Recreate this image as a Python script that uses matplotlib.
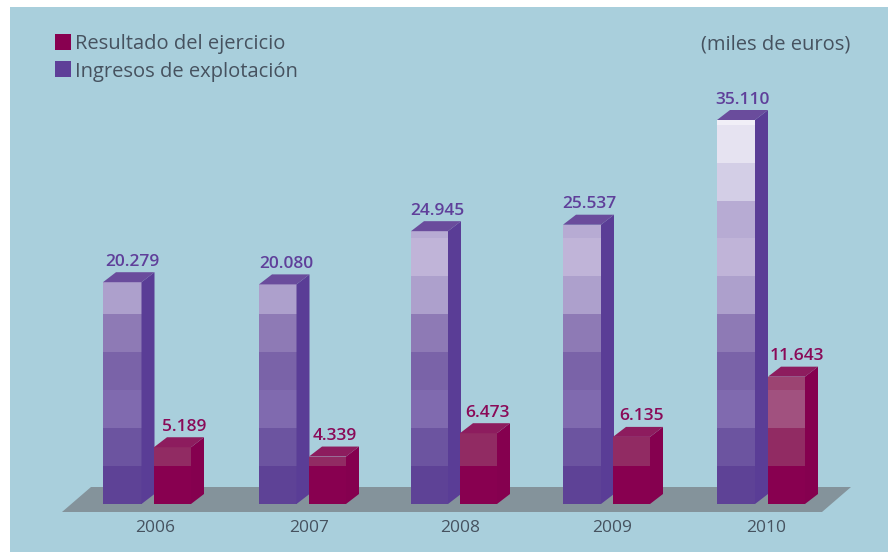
import matplotlib
matplotlib.use('Agg')
import matplotlib.pyplot as plt
from matplotlib.patches import Polygon, Rectangle

# Datos
anios = ['2006', '2007', '2008', '2009', '2010']
ingresos = [20279, 20080, 24945, 25537, 35110]
resultado = [5189, 4339, 6473, 6135, 11643]
etiq_ingresos = ['20.279', '20.080', '24.945', '25.537', '35.110']
etiq_resultado = ['5.189', '4.339', '6.473', '6.135', '11.643']

# Tramos de color de las barras (miles de euros)
cortes = [3520, 6950, 10420, 13900, 17370, 20850, 24320, 27700, 31180, 34650, 36000]
tonos_ingresos = ['#5E4296', '#6C54A0', '#806AAF', '#7A63A8', '#8E7AB5', '#ADA0CC',
                  '#C0B4D8', '#B7ABD3', '#D3CEE6', '#E6E3F1', '#F1EFF7']
tonos_resultado = ['#880050', '#912B63', '#A1517F', '#9C4472']

# Posiciones en pixeles de la figura
x_ingresos = [103, 259, 411, 563, 717]
ancho_ingresos = [38.5, 37.5, 37, 38, 38]
x_resultado = [154, 309, 460, 613, 768]
ancho_resultado = 37
x_anios = [155.5, 309, 460, 612, 766]
x_etiq_ing = [132.5, 286, 437, 589, 742.5]
x_etiq_res = [184.5, 335, 487, 641, 797]
prof_x = 13

PX = 384 / 35110  # pixeles por unidad
prof_y = 10 / PX
base_px = 504

plt.rcParams['font.family'] = ['Open Sans', 'DejaVu Sans']

fig = plt.figure(figsize=(8.9, 5.52), dpi=100, facecolor='white')
ax = fig.add_axes([0, 0, 1, 1])
ax.set_xlim(0, 890)
ax.set_ylim(-(552 - base_px) / PX, base_px / PX)
ax.axis('off')


def y_px(p):
    return (base_px - p) / PX


# Fondo y suelo
ax.add_patch(Rectangle((10, y_px(552)), 878, y_px(7) - y_px(552), color='#A9CFDC', lw=0, zorder=0))
ax.add_patch(Polygon([(62, y_px(512)), (91, y_px(487)), (851, y_px(487)), (822, y_px(512))],
                     color='#84939B', lw=0, zorder=1))


def barra(x, ancho, valor, tonos, lado, tapa, z):
    abajo = 0
    for corte, tono in zip(cortes, tonos):
        arriba = min(corte, valor)
        ax.bar(x, arriba - abajo, ancho, bottom=abajo, align='edge', color=tono, lw=0, zorder=z)
        abajo = arriba
        if arriba >= valor:
            break
    der = x + ancho
    ax.add_patch(Polygon([(der, 0), (der + prof_x, prof_y), (der + prof_x, valor + prof_y), (der, valor)],
                         color=lado, lw=0, zorder=z))
    ax.add_patch(Polygon([(x, valor), (der, valor), (der + prof_x, valor + prof_y), (x + prof_x, valor + prof_y)],
                         color=tapa, lw=0, zorder=z))


for i in range(len(anios)):
    barra(x_ingresos[i], ancho_ingresos[i], ingresos[i], tonos_ingresos, '#5A3D96', '#6A4C9C', 2)
    barra(x_resultado[i], ancho_resultado, resultado[i], tonos_resultado, '#85004F', '#8D1C5E', 3)
    ax.text(x_etiq_ing[i], ingresos[i] + 20.5 / PX, etiq_ingresos[i], color='#5F3F9A', fontsize=12.5,
            fontweight='semibold', ha='center', va='center', zorder=4)
    ax.text(x_etiq_res[i], resultado[i] + 20.5 / PX, etiq_resultado[i], color='#8A0A58', fontsize=12.5,
            fontweight='semibold', ha='center', va='center', zorder=4)
    ax.text(x_anios[i], y_px(528.5), anios[i], color='#46525F', fontsize=12.5,
            ha='center', va='center', zorder=4)

# Leyenda
ax.add_patch(Rectangle((55, y_px(50)), 16, 16 / PX, color='#880050', lw=0, zorder=4))
ax.add_patch(Rectangle((55, y_px(77)), 16, 16 / PX, color='#5E3F98', lw=0, zorder=4))
ax.text(75, y_px(44.5), 'Resultado del ejercicio', color='#46525F', fontsize=14.5, va='center', zorder=4)
ax.text(75, y_px(71.5), 'Ingresos de explotación', color='#46525F', fontsize=14.5, va='center', zorder=4)
ax.text(850, y_px(44.5), '(miles de euros)', color='#46525F', fontsize=14.5, ha='right', va='center', zorder=4)

fig.savefig('out.png', dpi=100)
